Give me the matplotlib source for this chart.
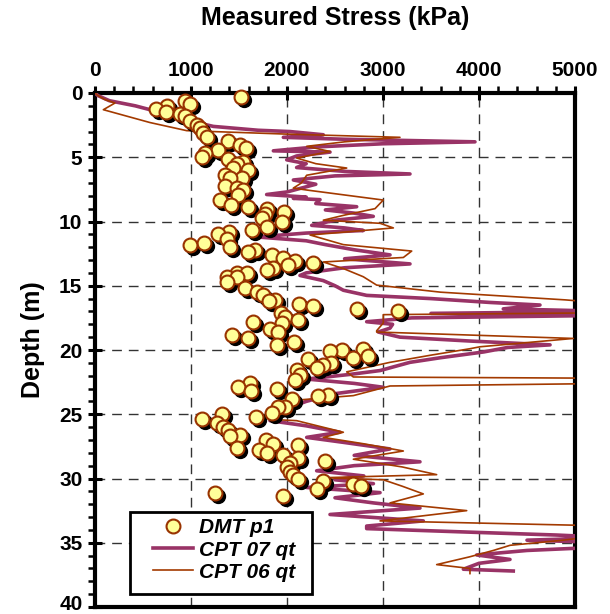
import numpy as np
import matplotlib
matplotlib.use('Agg')
import matplotlib.pyplot as plt
import matplotlib.transforms as mtransforms
from matplotlib.patches import Rectangle

plt.rcParams['font.family'] = ['Liberation Sans', 'DejaVu Sans']

# DMT p1 readings (depth m, stress kPa)
dmt_depth = [0.3, 0.6, 0.85, 1.0, 1.25, 1.45, 1.6, 1.8, 2.15, 2.5,
             2.75, 3.1, 3.4, 3.7, 4.05, 4.25, 4.45, 4.65, 5.0, 5.1,
             5.35, 5.5, 5.86, 6.0, 6.4, 6.6, 6.64, 7.24, 7.4, 7.55,
             7.94, 8.3, 8.7, 8.85, 9.0, 9.24, 9.4, 9.75, 10.0, 10.4,
             10.66, 10.8, 11.0, 11.4, 11.65, 11.83, 12.0, 12.2, 12.4, 12.6,
             12.86, 13.1, 13.25, 13.4, 13.64, 13.8, 14.0, 14.0, 14.3, 14.3,
             14.7, 15.2, 15.45, 15.7, 16.1, 16.2, 16.45, 16.6, 16.8, 17.0,
             17.1, 17.4, 17.66, 17.85, 17.9, 18.4, 18.57, 18.83, 19.1, 19.35,
             19.6, 19.9, 20.0, 20.1, 20.45, 20.65, 20.7, 21.0, 21.2, 21.4,
             21.56, 21.95, 22.3, 22.6, 22.85, 23.0, 23.2, 23.5, 23.6, 23.8,
             24.4, 24.4, 24.9, 25.0, 25.2, 25.4, 25.7, 26.0, 26.2, 26.6,
             26.7, 27.0, 27.3, 27.4, 27.6, 27.8, 28.0, 28.2, 28.4, 28.6,
             28.8, 29.07, 29.5, 29.7, 30.0, 30.2, 30.4, 30.6, 30.8, 31.15,
             31.4]
dmt_stress = [1520, 937, 990, 753, 635, 740, 885, 937, 990, 1059,
              1094, 1128, 1163, 1389, 1510, 1570, 1285, 1146, 1111, 1389,
              1545, 1476, 1441, 1597, 1354, 1528, 1406, 1354, 1476, 1545,
              1493, 1302, 1417, 1590, 1788, 1972, 1771, 1736, 1951, 1788,
              1632, 1399, 1278, 1372, 1139, 990, 1406, 1667, 1590, 1847,
              1962, 2083, 2274, 2014, 1858, 1788, 1476, 1580, 1372, 1476,
              1372, 1562, 1684, 1753, 1875, 1812, 2125, 2267, 2726, 3153,
              1934, 1979, 2118, 1649, 1944, 1823, 1910, 1424, 1597, 2076,
              1892, 2795, 2570, 2448, 2847, 2691, 2222, 2458, 2378, 2309,
              2101, 2135, 2083, 1615, 1493, 1899, 1625, 2430, 2326, 2049,
              1979, 1910, 1840, 1319, 1674, 1111, 1267, 1337, 1389, 1510,
              1406, 1778, 1851, 2118, 1476, 1712, 1795, 1962, 2118, 2396,
              2031, 1997, 2031, 2066, 2118, 2378, 2684, 2771, 2309, 1250,
              1962]

# CPT 07 qt trace
cpt07_depth = [0.0, 0.2, 0.6, 1.0, 1.3, 1.8, 2.2, 2.6, 2.9, 3.0,
               3.25, 3.45, 3.6, 3.8, 3.95, 4.2, 4.5, 4.6, 4.9, 5.2,
               5.5, 5.8, 6.1, 6.3, 6.45, 6.77, 7.1, 7.4, 7.7, 7.9,
               8.1, 8.2, 8.3, 8.6, 8.85, 9.1, 9.35, 9.6, 9.9, 10.3,
               10.5, 10.7, 10.9, 11.2, 11.5, 11.8, 12.2, 12.6, 12.9, 13.3,
               13.6, 14.0, 14.2, 14.6, 15.0, 15.35, 15.75, 16.0, 16.3, 16.5,
               16.8, 17.0, 17.15, 17.3, 17.5, 17.8, 18.0, 18.3, 18.6, 19.0,
               19.3, 19.6, 19.8, 20.15, 20.6, 20.96, 21.6, 21.9, 22.26, 22.6,
               22.9, 23.4, 24.0, 24.46, 25.0, 25.5, 25.9, 26.4, 26.8, 27.2,
               27.7, 28.2, 28.7, 29.0, 29.4, 29.8, 30.1, 30.4, 30.7, 31.1,
               31.5, 31.9, 32.3, 32.8, 33.3, 33.7, 33.9, 34.2, 34.4, 34.6,
               34.8, 35.0, 35.3, 35.6, 35.95, 36.3, 36.6, 37.06, 37.2]
cpt07_qt = [0, 30, 150, 420, 573, 781, 1000, 1233, 1700, 2031,
            2378, 1962, 2600, 3958, 3000, 2300, 1858, 2448, 2100, 1997,
            2200, 2100, 2600, 3281, 2500, 2066, 2300, 2150, 2000, 1788,
            2200, 2066, 2344, 2300, 2726, 2400, 2700, 2899, 2500, 2257,
            2600, 2795, 2200, 1684, 2200, 2400, 2700, 3073, 2600, 3281,
            2600, 2200, 2135, 2378, 2500, 2587, 2830, 3500, 4115, 4635,
            4253, 5400, 3500, 5400, 3300, 2830, 3100, 3073, 2950, 3177,
            3900, 4740, 4300, 4050, 3600, 3281, 2969, 2656, 2205, 2700,
            3003, 2500, 2200, 2031, 1900, 1823, 2200, 2552, 2205, 2600,
            3073, 2700, 3385, 2700, 2309, 2800, 2500, 2900, 2205, 2969,
            2500, 2900, 3385, 2448, 3420, 2830, 2830, 4000, 4809, 5400,
            4500, 5400, 5400, 4500, 3976, 4323, 4000, 3837, 4357]

# CPT 06 qt trace
cpt06_depth = [0.0, 0.2, 0.5, 0.78, 1.3, 2.3, 2.93, 3.2, 3.45, 3.8,
               4.15, 4.55, 5.06, 5.5, 5.84, 6.4, 7.0, 7.4, 7.55, 8.33,
               9.0, 9.5, 9.9, 10.14, 10.5, 11.05, 11.8, 12.3, 12.8, 13.15,
               13.7, 14.3, 14.95, 15.5, 16.1, 16.4, 17.1, 17.25, 17.9, 18.5,
               18.6, 19.1, 19.75, 19.9, 20.4, 20.96, 21.7, 22.1, 22.2, 22.6,
               22.8, 23.55, 23.9, 24.7, 25.4, 25.5, 26.4, 26.8, 27.3, 27.86,
               28.5, 29.1, 29.7, 29.94, 30.1, 30.6, 31.2, 31.9, 32.5, 33.3,
               33.7, 34.3, 34.8, 35.2, 35.6, 36.1, 36.7, 37.0, 37.4]
cpt06_qt = [0, 30, 100, 208, 87, 573, 955, 2000, 3177, 2600,
            2205, 2448, 2101, 2300, 2622, 2205, 2150, 2066, 2205, 3003,
            2917, 2600, 2378, 2969, 3108, 2240, 2587, 3299, 3212, 2378,
            2600, 2795, 2934, 3600, 4900, 5400, 5400, 3003, 3003, 2934,
            2934, 4983, 4010, 3906, 3500, 3073, 2622, 2691, 5400, 5400,
            3073, 2691, 2101, 1823, 1823, 2101, 2587, 2378, 2800, 3212,
            2691, 3200, 3559, 2378, 3003, 3200, 3420, 3073, 3872, 2969,
            5400, 5400, 4878, 4323, 4149, 3900, 3559, 3906, 3906]

x_ticks = [0, 1000, 2000, 3000, 4000, 5000]
y_ticks = [0, 5, 10, 15, 20, 25, 30, 35, 40]

fig = plt.figure(figsize=(6.1, 6.14), dpi=100)
ax = fig.add_axes([95/610, 1 - 607/614, 480/610, 514/614])

ax.set_xlim(0, 5000)
ax.set_ylim(40, 0)
ax.xaxis.tick_top()
ax.set_xticks(x_ticks)
ax.set_xticks(np.arange(0, 5001, 200), minor=True)
ax.set_yticks(y_ticks)
ax.set_yticks(np.arange(0, 41, 1), minor=True)
ax.tick_params(which='major', direction='inout', length=10, width=2.2,
               labelsize=15, pad=4)
ax.tick_params(which='minor', direction='out', length=5, width=1.8)
ax.tick_params(axis='x', which='both', top=True, bottom=False)
for lab in ax.get_xticklabels() + ax.get_yticklabels():
    lab.set_fontweight('bold')
# keep the bottom "40" inside the picture
last = ax.get_yticklabels()[-1]
last.set_transform(last.get_transform() +
                   mtransforms.ScaledTranslation(0, 5/100, fig.dpi_scale_trans))
for sp in ax.spines.values():
    sp.set_linewidth(3)

ax.grid(True, which='major', color='#333333', linestyle=(0, (7, 5)), linewidth=1.0)
ax.set_axisbelow(True)

l07, = ax.plot(cpt07_qt, cpt07_depth, color='#993366', lw=2.6, zorder=3,
               solid_joinstyle='round', label='CPT 07 qt')
l06, = ax.plot(cpt06_qt, cpt06_depth, color='#A33A00', lw=1.2, zorder=4,
               label='CPT 06 qt')

shadow = mtransforms.offset_copy(ax.transData, fig=fig, x=3, y=-3, units='dots')
ax.plot(dmt_stress, dmt_depth, 'o', ms=10, color='black', mec='black',
        transform=shadow, zorder=5, clip_on=False)
pts, = ax.plot(dmt_stress, dmt_depth, 'o', ms=10, mfc='#FFFF99', mec='#993300',
               mew=1.5, zorder=6, clip_on=False, label='DMT p1')

# legend box drawn separately so its padding matches the reference
box = Rectangle(((130 - 95) / 480, (607 - 594) / 514), 182 / 480, 82 / 514,
                transform=ax.transAxes, facecolor='white', edgecolor='black',
                linewidth=2, zorder=9)
ax.add_patch(box)
leg = ax.legend(handles=[pts, l07, l06], loc='center left',
                bbox_to_anchor=((153 - 95) / 480, (607 - 550) / 514),
                frameon=False, borderpad=0, borderaxespad=0,
                prop={'weight': 'bold', 'style': 'italic', 'size': 15},
                labelspacing=0.15, handlelength=1.9, handletextpad=0.3)
leg.set_zorder(10)

fig.text(335/610, 1 - 18/614, 'Measured Stress (kPa)', ha='center', va='center',
         fontsize=18, fontweight='bold')
fig.text(33/610, 1 - 340/614, 'Depth (m)', ha='center', va='center',
         rotation=90, fontsize=18, fontweight='bold')

fig.savefig('out.png', dpi=100)
